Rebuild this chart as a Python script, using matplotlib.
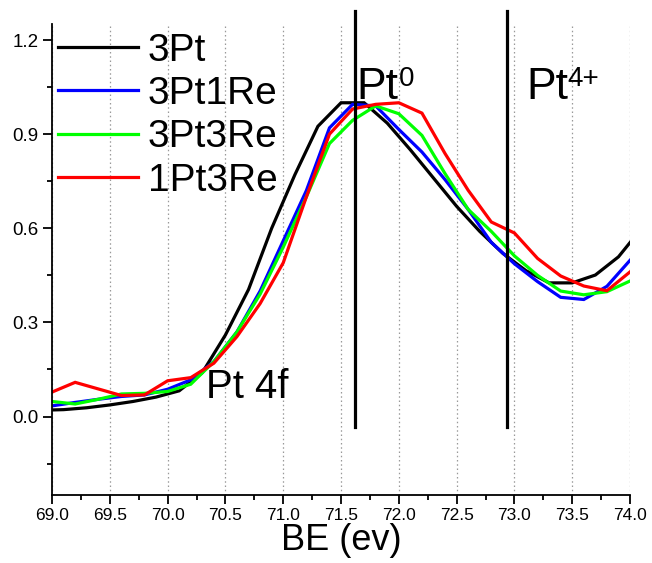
import matplotlib
matplotlib.use("Agg")
import matplotlib.pyplot as plt
from matplotlib.ticker import MultipleLocator

plt.rcParams['font.family'] = ['Liberation Sans', 'DejaVu Sans']

# ---- data ----
be_grid = [69.0, 69.2, 69.4, 69.6, 69.8, 70.0, 70.2, 70.4, 70.6, 70.8,
           71.0, 71.2, 71.4, 71.6, 71.8, 72.0, 72.2, 72.4, 72.6, 72.8,
           73.0, 73.2, 73.4, 73.6, 73.8, 74.0]
be_black = [68.9, 69.1, 69.3, 69.5, 69.7, 69.9, 70.1, 70.3, 70.5, 70.7,
            70.9, 71.1, 71.3, 71.5, 71.7, 71.9, 72.1, 72.3, 72.5, 72.7,
            72.9, 73.1, 73.3, 73.5, 73.7, 73.9, 74.1]

y_3Pt = [0.020, 0.022, 0.028, 0.037, 0.048, 0.062, 0.082, 0.140, 0.260, 0.405,
         0.600, 0.770, 0.925, 1.000, 1.000, 0.935, 0.850, 0.760, 0.670, 0.590,
         0.520, 0.465, 0.426, 0.426, 0.451, 0.509, 0.600]
y_3Pt1Re = [0.034, 0.045, 0.055, 0.064, 0.069, 0.087, 0.117, 0.175, 0.270, 0.400,
            0.560, 0.720, 0.920, 0.995, 0.990, 0.915, 0.843, 0.755, 0.660, 0.555,
            0.487, 0.430, 0.380, 0.373, 0.415, 0.498]
y_3Pt3Re = [0.048, 0.040, 0.055, 0.072, 0.074, 0.080, 0.103, 0.175, 0.270, 0.390,
            0.540, 0.700, 0.870, 0.944, 0.990, 0.965, 0.896, 0.774, 0.660, 0.590,
            0.512, 0.450, 0.400, 0.388, 0.398, 0.432]
y_1Pt3Re = [0.078, 0.109, 0.088, 0.067, 0.069, 0.114, 0.124, 0.170, 0.255, 0.360,
            0.490, 0.700, 0.900, 0.980, 0.995, 1.000, 0.967, 0.838, 0.721, 0.620,
            0.585, 0.504, 0.448, 0.416, 0.401, 0.461]

labels = ['3Pt', '3Pt1Re', '3Pt3Re', '1Pt3Re']
colors = ['#000000', '#0000FF', '#00FF00', '#FF0000']

marker_x = [71.62, 72.94]
marker_y = [-0.032, 1.293]

xticks = [69.0, 69.5, 70.0, 70.5, 71.0, 71.5, 72.0, 72.5, 73.0, 73.5, 74.0]
yticks = [0.0, 0.3, 0.6, 0.9, 1.2]

# ---- figure ----
fig = plt.figure(figsize=(6.52, 5.63), dpi=100)
ax = fig.add_axes([0.0798, 0.1208, 0.8865, 0.836])

series = [(be_black, y_3Pt), (be_grid, y_3Pt1Re), (be_grid, y_3Pt3Re), (be_grid, y_1Pt3Re)]
for (xs, ys), lab, c in zip(series, labels, colors):
    ax.plot(xs, ys, color=c, lw=2.3, label=lab, solid_joinstyle='miter')

for xv in marker_x:
    ax.plot([xv, xv], marker_y, color='black', lw=2.3, clip_on=False)

ax.set_xlim(69.0, 74.0)
ax.set_ylim(-0.25, 1.25)
ax.set_xticks(xticks)
ax.set_xticklabels([f"{v:.1f}" for v in xticks])
ax.set_yticks(yticks)
ax.set_yticklabels([f"{v:.1f}" for v in yticks])
ax.xaxis.set_minor_locator(MultipleLocator(0.25))
ax.yaxis.set_minor_locator(MultipleLocator(0.15))
ax.tick_params(which='major', direction='out', length=6.5, width=1.3)
ax.tick_params(which='minor', direction='out', length=3.5, width=1.3)
ax.tick_params(axis='x', labelsize=12.5, pad=3)
ax.tick_params(axis='y', labelsize=13.5, pad=3)

for s in ['top', 'right']:
    ax.spines[s].set_visible(False)
for s in ['left', 'bottom']:
    ax.spines[s].set_linewidth(1.3)

ax.grid(axis='x', which='major', linestyle=(0, (1.2, 2.2)), color='#999999', lw=0.9)
ax.set_axisbelow(True)

ax.set_xlabel('BE (ev)', fontsize=26, labelpad=0)

leg = ax.legend(loc='upper left', fontsize=28, frameon=False, handlelength=2.05,
                handletextpad=0.26, labelspacing=0.19, borderaxespad=0.0,
                borderpad=0.15, bbox_to_anchor=(0.0, 0.995))

# peak annotations: main text plus smaller raised superscript
ax.text(71.634, 1.013, 'Pt', fontsize=32, ha='left', va='baseline')
ax.text(72.00, 1.055, '0', fontsize=20, ha='left', va='baseline')
ax.text(73.105, 1.013, 'Pt', fontsize=32, ha='left', va='baseline')
ax.text(73.455, 1.055, '4+', fontsize=20, ha='left', va='baseline')
ax.text(70.33, 0.058, 'Pt 4f', fontsize=29, ha='left', va='baseline')

fig.savefig('out.png', dpi=100)
